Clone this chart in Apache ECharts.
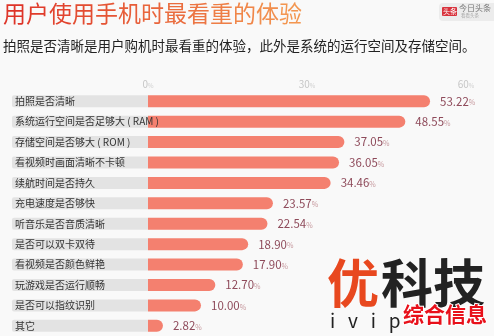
<!DOCTYPE html>
<html><head><meta charset="utf-8">
<script src="https://cdn.jsdelivr.net/npm/echarts@6/dist/echarts.min.js"></script>
<style>html,body{margin:0;padding:0;background:#f9f9f9;}#c{width:494px;height:336px;}</style>
</head><body><div id="c"></div>
<script>
const categories = ['拍照是否清晰','系统运行空间是否足够大 ( RAM )','存储空间是否够大 ( ROM )','看视频时画面清晰不卡顿','续航时间是否持久','充电速度是否够快','听音乐是否音质清晰','是否可以双卡双待','看视频是否颜色鲜艳','玩游戏是否运行顺畅','是否可以指纹识别','其它'];
const values = [53.22, 48.55, 37.05, 36.05, 34.46, 23.57, 22.54, 18.90, 17.90, 12.70, 10.00, 2.82];
const axisTicks = [0, 30, 60];
const titleText = '用户使用手机时最看重的体验';
const subtitleText = '拍照是否清晰是用户购机时最看重的体验，此外是系统的运行空间及存储空间。';

const FONT = '"Noto Sans CJK SC", "Noto Sans", sans-serif';

// title gradient red -> orange, per character
const c0 = [222, 52, 40], c1 = [243, 150, 80];
const titleChars = Array.from(titleText);
const titleRich = {};
titleChars.forEach((ch, i) => {
  const t = titleChars.length > 1 ? i / (titleChars.length - 1) : 0;
  const c = c0.map((v, k) => Math.round(v + (c1[k] - v) * t));
  titleRich['c' + i] = { fontSize: 23, fontWeight: 'normal', fontFamily: FONT, color: 'rgb(' + c.join(',') + ')' };
});
const titleRichText = titleChars.map((ch, i) => '{c' + i + '|' + ch + '}').join('');

const chart = echarts.init(document.getElementById('c'));
chart.setOption({
  backgroundColor: '#f9f9f9',
  textStyle: { fontFamily: FONT },
  animation: false,
  title: { text: titleRichText, left: -2, top: -3, textStyle: { rich: titleRich, fontSize: 23, fontWeight: 'normal' } },
  grid: [
    { left: 12, width: 136, top: 91, height: 246 },
    { left: 148, width: 318, top: 91, height: 246 }
  ],
  xAxis: [
    { gridIndex: 0, type: 'value', min: 0, max: 1, show: false },
    { gridIndex: 1, type: 'value', min: axisTicks[0], max: axisTicks[axisTicks.length-1], interval: axisTicks[1]-axisTicks[0], position: 'top',
      axisLine: { show: false }, axisTick: { show: false }, splitLine: { show: false },
      axisLabel: { margin: 2, formatter: v => '{n|' + v + '}{p|%}',
        rich: { n: { fontSize: 10, color: '#c6c6c6', fontFamily: FONT }, p: { fontSize: 6, color: '#cfcfcf', fontFamily: FONT, padding: [3,0,0,0] } } } }
  ],
  yAxis: [
    { gridIndex: 0, type: 'category', data: categories, inverse: true, show: false },
    { gridIndex: 1, type: 'category', data: categories, inverse: true, show: false }
  ],
  series: [
    { type: 'bar', xAxisIndex: 0, yAxisIndex: 0, barWidth: 12, data: categories.map(() => 1),
      itemStyle: { color: '#e3e3e3', borderRadius: [2,0,0,2] },
      label: { show: true, position: 'insideLeft', distance: 3, formatter: p => p.name, color: '#333', fontSize: 10, fontFamily: FONT } },
    { type: 'bar', xAxisIndex: 1, yAxisIndex: 1, barWidth: 12, data: values,
      itemStyle: { color: '#f4806f', borderRadius: [0,6,6,0] },
      label: { show: true, position: 'right', distance: 10, formatter: p => '{n|' + p.value.toFixed(2) + '}{p|%}',
        rich: { n: { fontSize: 11.5, color: '#8e4a5a', fontFamily: FONT }, p: { fontSize: 7, color: '#c79a9f', fontFamily: FONT, padding: [3,0,0,0] } } } }
  ],
  graphic: [
    { type: 'text', left: 3, top: 39, style: { text: subtitleText, fontSize: 13.5, fontFamily: FONT, fill: '#222' } },
    { type: 'rect', shape: { x: 439, y: 3, width: 58, height: 18, r: 4 }, style: { fill: '#ececec' } },
    { type: 'rect', shape: { x: 442, y: 7, width: 15, height: 9, r: 1 }, style: { fill: '#d8323c' } },
    { type: 'text', x: 443, y: 7.5, style: { text: '头条', fontSize: 7, fill: '#fff', fontFamily: FONT } },
    { type: 'text', x: 459, y: 4, style: { text: '今日头条', fontSize: 8, fill: '#777', fontFamily: FONT } },
    { type: 'text', x: 461, y: 13, style: { text: '看看头条', fontSize: 4.5, fill: '#aaa', fontFamily: FONT } },
    { type: 'text', x: 327, y: 257, style: { text: '优', fontSize: 52, fontWeight: 'bold', fill: '#e8481f', fontFamily: FONT } },
    { type: 'text', x: 381, y: 257, style: { text: '科技', fontSize: 52, fontWeight: 'bold', fill: '#222', fontFamily: FONT } },
    { type: 'text', x: 330, y: 311, style: { text: 'i   v   i   p', fontSize: 19, fill: '#222', fontFamily: FONT } },
    { type: 'text', x: 403, y: 304, style: { text: '综合信息', fontSize: 21, fontWeight: 'bold', fill: '#e8101a', stroke: '#fff', lineWidth: 2, fontFamily: FONT } }
  ]
});
</script></body></html>
